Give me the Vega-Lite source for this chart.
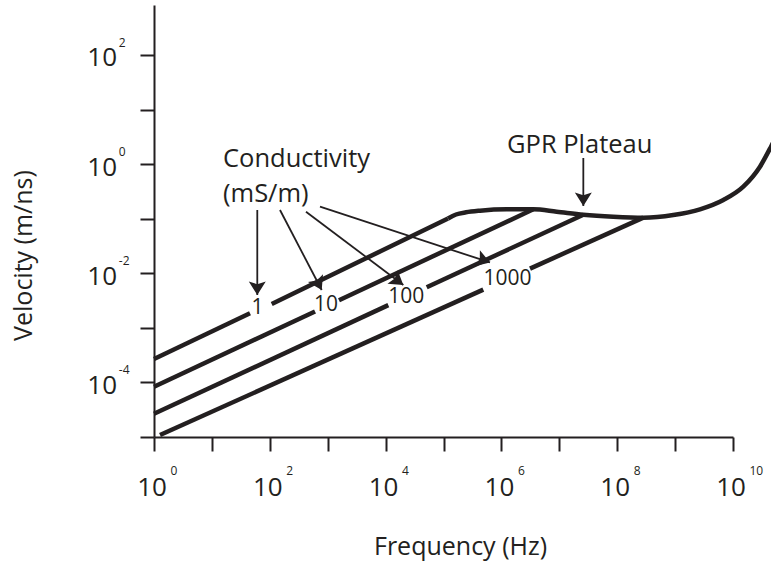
{
  "$schema": "https://vega.github.io/schema/vega-lite/v6.json",
  "width": 579,
  "height": 432,
  "autosize": "none",
  "padding": {"left": 154, "top": 5, "right": 38, "bottom": 134},
  "background": "white",
  "config": {
    "view": {"stroke": null},
    "font": "Open Sans",
    "axis": {
      "grid": false,
      "domainColor": "#231f20",
      "tickColor": "#231f20",
      "labelColor": "#231f20",
      "titleColor": "#231f20",
      "labelFont": "Open Sans",
      "titleFont": "Open Sans",
      "titleFontWeight": "normal",
      "labelFlush": false,
      "labelOverlap": false,
      "labelBound": false
    },
    "text": {"font": "Open Sans", "color": "#231f20"}
  },
  "datasets": {
    "lines": [
      {"seg": "s1a", "f": 1, "v": 0.0002685},
      {"seg": "s1a", "f": 45.5, "v": 0.001849},
      {"seg": "s1b", "f": 107.9, "v": 0.002735},
      {"seg": "s1b", "f": 119700, "v": 0.1009},
      {"seg": "s10a", "f": 1, "v": 0.0000836},
      {"seg": "s10a", "f": 603.9, "v": 0.002},
      {"seg": "s10b", "f": 1567, "v": 0.00321},
      {"seg": "s10b", "f": 3556000, "v": 0.1486},
      {"seg": "s100a", "f": 1, "v": 0.0000266},
      {"seg": "s100a", "f": 11140, "v": 0.00261},
      {"seg": "s100b", "f": 51280, "v": 0.00553},
      {"seg": "s100b", "f": 26000000, "v": 0.1183},
      {"seg": "s1000a", "f": 1.27, "v": 0.00001087},
      {"seg": "s1000a", "f": 486400, "v": 0.00502},
      {"seg": "s1000b", "f": 3119000, "v": 0.01219},
      {"seg": "s1000b", "f": 282500000, "v": 0.1045},
      {"seg": "plateau", "f": 119700, "v": 0.1009},
      {"seg": "plateau", "f": 164400, "v": 0.1194},
      {"seg": "plateau", "f": 244900, "v": 0.1309},
      {"seg": "plateau", "f": 426600, "v": 0.1403},
      {"seg": "plateau", "f": 1236000, "v": 0.1486},
      {"seg": "plateau", "f": 3556000, "v": 0.1486},
      {"seg": "plateau", "f": 9016000, "v": 0.1343},
      {"seg": "plateau", "f": 26000000, "v": 0.1183},
      {"seg": "plateau", "f": 85700000, "v": 0.1089},
      {"seg": "plateau", "f": 282500000, "v": 0.1045},
      {"seg": "plateau", "f": 931100000, "v": 0.1169},
      {"seg": "plateau", "f": 2692000000, "v": 0.1486},
      {"seg": "plateau", "f": 6808000000, "v": 0.2203},
      {"seg": "plateau", "f": 15070000000, "v": 0.3864},
      {"seg": "plateau", "f": 29240000000, "v": 0.8974},
      {"seg": "plateau", "f": 45290000000, "v": 2.089},
      {"seg": "plateau", "f": 79070000000, "v": 7.015}
    ],
    "notes": [
      {"f": 15.55, "v": 0.875, "text": "Conductivity"},
      {"f": 15.55, "v": 0.205, "text": "(mS/m)"},
      {"f": 1250000, "v": 1.622, "text": "GPR Plateau"}
    ],
    "nums": [
      {"f": 61.3, "v": 0.00236, "text": "1"},
      {"f": 935, "v": 0.00257, "text": "10"},
      {"f": 22800, "v": 0.00367, "text": "100"},
      {"f": 1274000, "v": 0.00785, "text": "1000"}
    ],
    "arrows": [
      {"id": "a1", "f1": 60.8, "v1": 0.1445, "f2": 60.8, "v2": 0.004},
      {"id": "a2", "f1": 150, "v1": 0.1445, "f2": 787.6, "v2": 0.00494},
      {"id": "a3", "f1": 421.7, "v1": 0.1343, "f2": 20220, "v2": 0.0061},
      {"id": "a4", "f1": 736, "v1": 0.166, "f2": 635000, "v2": 0.01578},
      {"id": "gpr", "f1": 26000000, "v1": 1.297, "f2": 26000000, "v2": 0.171}
    ]
  },
  "layer": [
    {
      "data": {"name": "lines"},
      "mark": {"type": "line", "color": "#231f20", "strokeWidth": 4.5, "interpolate": "monotone", "clip": false},
      "encoding": {
        "x": {
          "field": "f", "type": "quantitative",
          "scale": {"type": "log", "domain": [1, 10000000000], "nice": false},
          "axis": {
            "orient": "bottom",
            "values": [1, 10, 100, 1000, 10000, 100000, 1000000, 10000000, 100000000, 1000000000, 10000000000],
            "labelExpr": "round(log(datum.value)/LN10) % 2 == 0 ? '10' : ''",
            "tickSize": 14, "tickWidth": 2, "domainWidth": 2,
            "labelPadding": 23.4, "labelOffset": -2.5, "labelFontSize": 26,
            "labelBaseline": "top", "labelAlign": "center",
            "title": "Frequency (Hz)", "titleFontSize": 25,
            "titleX": 306, "titleY": 117, "titleBaseline": "alphabetic", "titleAlign": "center", "titleAnchor": null
          }
        },
        "y": {
          "field": "v", "type": "quantitative",
          "scale": {"type": "log", "domain": [0.00001, 824.1], "nice": false},
          "axis": {
            "orient": "left",
            "values": [0.00001, 0.0001, 0.001, 0.01, 0.1, 1, 10, 100],
            "labelExpr": "round(log(datum.value)/LN10) % 2 == 0 ? '10' : ''",
            "tickSize": 14, "tickWidth": 2, "domainWidth": 2,
            "labelPadding": 23.5, "labelOffset": 3, "labelFontSize": 26,
            "labelBaseline": "middle", "labelAlign": "right",
            "title": "Velocity (m/ns)", "titleFontSize": 25,
            "titleX": -122.3, "titleY": 250, "titleAngle": -90, "titleBaseline": "alphabetic", "titleAlign": "center", "titleAnchor": null
          }
        },
        "detail": {"field": "seg", "type": "nominal"}
      }
    },
    {
      "data": {"name": "arrows"},
      "mark": {"type": "rule", "color": "#231f20", "strokeWidth": 1.8, "clip": false},
      "encoding": {
        "x": {
          "field": "f1", "type": "quantitative",
          "scale": {"type": "log", "domain": [1, 10000000000], "nice": false},
          "axis": {
            "orient": "bottom",
            "values": [1, 10, 100, 1000, 10000, 100000, 1000000, 10000000, 100000000, 1000000000, 10000000000],
            "labelExpr": "round(log(datum.value)/LN10) % 2 == 0 ? '' + round(log(datum.value)/LN10) : ''",
            "ticks": false, "tickSize": 0, "domain": false,
            "labelPadding": 28.5, "labelOffset": 16, "labelFontSize": 12,
            "labelBaseline": "top", "labelAlign": "left",
            "title": null
          }
        },
        "y": {
          "field": "v1", "type": "quantitative",
          "scale": {"type": "log", "domain": [0.00001, 824.1], "nice": false},
          "axis": {
            "orient": "left",
            "values": [0.00001, 0.0001, 0.001, 0.01, 0.1, 1, 10, 100],
            "labelExpr": "round(log(datum.value)/LN10) % 2 == 0 ? '' + round(log(datum.value)/LN10) : ''",
            "ticks": false, "tickSize": 0, "domain": false,
            "labelPadding": 35.7, "labelOffset": -12.7, "labelFontSize": 12,
            "labelBaseline": "middle", "labelAlign": "left",
            "title": null
          }
        },
        "x2": {"field": "f2"},
        "y2": {"field": "v2"}
      }
    },
    {
      "data": {"name": "arrows"},
      "transform": [{"filter": "datum.id == 'a1' || datum.id == 'gpr'"}],
      "mark": {"type": "point", "shape": "M0,0L0.95,1.5L0,1.2L-0.95,1.5Z", "angle": 180, "size": 320, "filled": true, "opacity": 1, "color": "#231f20", "strokeWidth": 0, "clip": false},
      "encoding": {
        "x": {"field": "f2", "type": "quantitative", "scale": {"type": "log", "domain": [1, 10000000000], "nice": false}, "axis": null},
        "y": {"field": "v2", "type": "quantitative", "scale": {"type": "log", "domain": [0.00001, 824.1], "nice": false}, "axis": null}
      }
    },
    {
      "data": {"name": "arrows"},
      "transform": [{"filter": "datum.id == 'a2'"}],
      "mark": {"type": "point", "shape": "M0,0L0.95,1.5L0,1.2L-0.95,1.5Z", "angle": 152.5, "size": 320, "filled": true, "opacity": 1, "color": "#231f20", "strokeWidth": 0, "clip": false},
      "encoding": {
        "x": {"field": "f2", "type": "quantitative", "scale": {"type": "log", "domain": [1, 10000000000], "nice": false}, "axis": null},
        "y": {"field": "v2", "type": "quantitative", "scale": {"type": "log", "domain": [0.00001, 824.1], "nice": false}, "axis": null}
      }
    },
    {
      "data": {"name": "arrows"},
      "transform": [{"filter": "datum.id == 'a3'"}],
      "mark": {"type": "point", "shape": "M0,0L0.95,1.5L0,1.2L-0.95,1.5Z", "angle": 127, "size": 320, "filled": true, "opacity": 1, "color": "#231f20", "strokeWidth": 0, "clip": false},
      "encoding": {
        "x": {"field": "f2", "type": "quantitative", "scale": {"type": "log", "domain": [1, 10000000000], "nice": false}, "axis": null},
        "y": {"field": "v2", "type": "quantitative", "scale": {"type": "log", "domain": [0.00001, 824.1], "nice": false}, "axis": null}
      }
    },
    {
      "data": {"name": "arrows"},
      "transform": [{"filter": "datum.id == 'a4'"}],
      "mark": {"type": "point", "shape": "M0,0L0.95,1.5L0,1.2L-0.95,1.5Z", "angle": 108.2, "size": 320, "filled": true, "opacity": 1, "color": "#231f20", "strokeWidth": 0, "clip": false},
      "encoding": {
        "x": {"field": "f2", "type": "quantitative", "scale": {"type": "log", "domain": [1, 10000000000], "nice": false}, "axis": null},
        "y": {"field": "v2", "type": "quantitative", "scale": {"type": "log", "domain": [0.00001, 824.1], "nice": false}, "axis": null}
      }
    },
    {
      "data": {"name": "notes"},
      "mark": {"type": "text", "align": "left", "baseline": "alphabetic", "fontSize": 25.5, "color": "#231f20", "clip": false},
      "encoding": {
        "x": {"field": "f", "type": "quantitative", "scale": {"type": "log", "domain": [1, 10000000000], "nice": false}, "axis": null},
        "y": {"field": "v", "type": "quantitative", "scale": {"type": "log", "domain": [0.00001, 824.1], "nice": false}, "axis": null},
        "text": {"field": "text", "type": "nominal"}
      }
    },
    {
      "data": {"name": "nums"},
      "mark": {"type": "text", "align": "center", "baseline": "middle", "fontSize": 21, "color": "#231f20", "clip": false},
      "encoding": {
        "x": {"field": "f", "type": "quantitative", "scale": {"type": "log", "domain": [1, 10000000000], "nice": false}, "axis": null},
        "y": {"field": "v", "type": "quantitative", "scale": {"type": "log", "domain": [0.00001, 824.1], "nice": false}, "axis": null},
        "text": {"field": "text", "type": "nominal"}
      }
    }
  ],
  "resolve": {"axis": {"x": "independent", "y": "independent"}}
}
